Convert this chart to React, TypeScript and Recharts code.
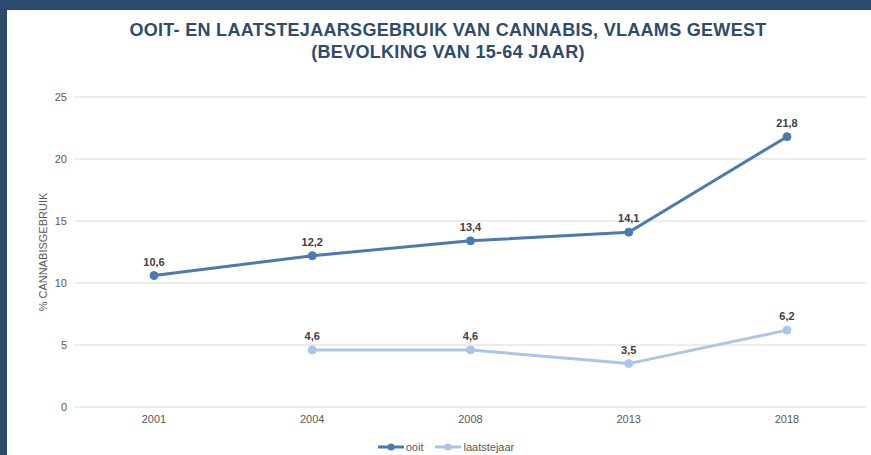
import { LineChart, Line, XAxis, YAxis, CartesianGrid, Legend, LabelList } from 'recharts';

const years = ['2001', '2004', '2008', '2013', '2018'];
const ooit = [10.6, 12.2, 13.4, 14.1, 21.8];
const laatstejaar = [null, 4.6, 4.6, 3.5, 6.2];
const yTicks = [0, 5, 10, 15, 20, 25];

const data = years.map((year, i) => ({ year, ooit: ooit[i], laatstejaar: laatstejaar[i] }));

const DARK = '#4a7bb0';
const LIGHT = '#a9c5e8';
const FONT = '"Liberation Sans", Arial, sans-serif';

const fmt = (v: any) => (v == null ? '' : String(v).replace('.', ','));

function LegendContent() {
  const items = [
    { name: 'ooit', color: DARK },
    { name: 'laatstejaar', color: LIGHT },
  ];
  return (
    <div style={{ display: 'flex', justifyContent: 'center', gap: 12, marginLeft: 26, fontSize: 11, color: '#595959', fontFamily: FONT }}>
      {items.map(it => (
        <div key={it.name} style={{ display: 'flex', alignItems: 'center' }}>
          <svg width={26} height={10} style={{ marginRight: 2 }}>
            <line x1={0} y1={5} x2={26} y2={5} stroke={it.color} strokeWidth={3} />
            <circle cx={13} cy={5} r={3.5} fill={it.color} />
          </svg>
          <span>{it.name}</span>
        </div>
      ))}
    </div>
  );
}

export default function App() {
  return (
    <div style={{ position: 'absolute', left: 0, top: 0, width: 871, height: 455, background: '#2b4a6e', fontFamily: FONT }}>
      <div style={{ position: 'absolute', left: 7, top: 10, right: 0, bottom: 0, background: '#ffffff' }} />
      <div style={{ position: 'absolute', left: 24, width: 848, top: 19, textAlign: 'center', color: '#2e4b6d', fontWeight: 'bold', fontSize: 18, letterSpacing: 0.3, lineHeight: '22px' }}>
        OOIT- EN LAATSTEJAARSGEBRUIK VAN CANNABIS, VLAAMS GEWEST
        <br />
        (BEVOLKING VAN 15-64 JAAR)
      </div>
      <div style={{ position: 'absolute', left: 0, top: 0 }}>
        <LineChart width={871} height={455} data={data} margin={{ top: 97, right: 5, left: 0, bottom: 0 }}>
          <CartesianGrid vertical={false} stroke="#d9d9d9" />
          <XAxis
            dataKey="year"
            axisLine={false}
            tickLine={false}
            height={34}
            padding={{ left: 79, right: 79 }}
            tick={{ fill: '#595959', fontSize: 11 }}
          />
          <YAxis
            width={75}
            domain={[0, 25]}
            ticks={yTicks}
            axisLine={false}
            tickLine={false}
            tick={{ fill: '#595959', fontSize: 11 }}
            label={{ value: '% CANNABISGEBRUIK', angle: -90, position: 'center', dx: 6, fill: '#595959', fontSize: 11 }}
          />
          <Legend verticalAlign="bottom" height={14} content={<LegendContent />} />
          <Line
            type="linear"
            dataKey="ooit"
            stroke={DARK}
            strokeWidth={3}
            dot={{ r: 4, fill: DARK, stroke: DARK, strokeWidth: 1 }}
            isAnimationActive={false}
          >
            <LabelList dataKey="ooit" position="top" offset={10} formatter={fmt} style={{ fill: '#404040', fontSize: 11, fontWeight: 'bold' }} />
          </Line>
          <Line
            type="linear"
            dataKey="laatstejaar"
            stroke={LIGHT}
            strokeWidth={3}
            dot={{ r: 4, fill: LIGHT, stroke: LIGHT, strokeWidth: 1 }}
            isAnimationActive={false}
          >
            <LabelList dataKey="laatstejaar" position="top" offset={10} formatter={fmt} style={{ fill: '#404040', fontSize: 11, fontWeight: 'bold' }} />
          </Line>
        </LineChart>
      </div>
    </div>
  );
}
